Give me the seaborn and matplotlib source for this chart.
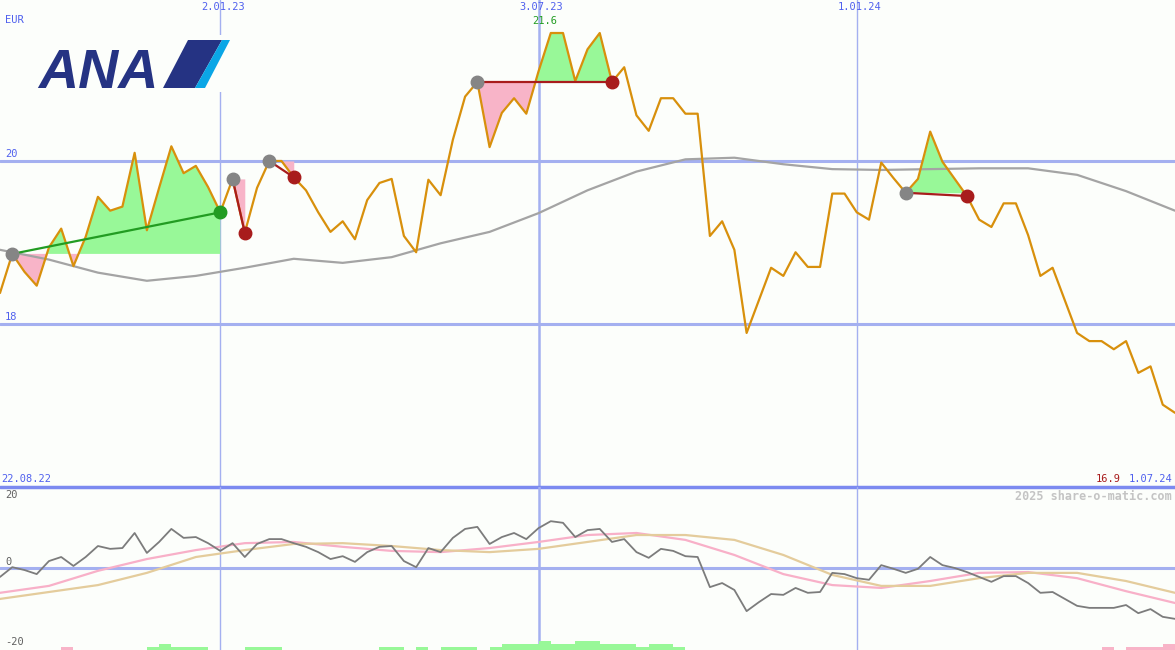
import matplotlib
matplotlib.use("Agg")
import matplotlib.pyplot as plt
from matplotlib.patches import Polygon, Rectangle
import numpy as np
import pandas as pd
import seaborn as sns

# weekly closes, EUR
price = [18.38, 18.86, 18.64, 18.47, 18.94, 19.17, 18.71, 19.07, 19.56, 19.39,
         19.44, 20.10, 19.15, 19.67, 20.18, 19.85, 19.94, 19.68, 19.37, 19.78,
         19.12, 19.67, 20.00, 20.00, 19.80, 19.64, 19.37, 19.13, 19.26, 19.04,
         19.52, 19.73, 19.78, 19.08, 18.88, 19.77, 19.58, 20.26, 20.79, 20.97,
         20.17, 20.59, 20.77, 20.58, 21.10, 21.57, 21.57, 20.98, 21.37, 21.57,
         20.97, 21.15, 20.56, 20.37, 20.77, 20.77, 20.58, 20.58, 19.08, 19.26,
         18.91, 17.89, 18.29, 18.69, 18.59, 18.88, 18.70, 18.70, 19.60, 19.60,
         19.37, 19.28, 19.98, 19.79, 19.61, 19.78, 20.36, 19.99, 19.78, 19.57,
         19.28, 19.19, 19.48, 19.48, 19.09, 18.59, 18.69, 18.29, 17.89, 17.79,
         17.79, 17.69, 17.79, 17.40, 17.48, 17.01, 16.91]

# long moving average, read every 4 weeks
ma_price = [18.91, 18.79, 18.63, 18.53, 18.59, 18.69, 18.80, 18.75, 18.82, 18.99,
            19.13, 19.36, 19.64, 19.87, 20.02, 20.04, 19.96, 19.90, 19.89, 19.90,
            19.91, 19.91, 19.83, 19.63, 19.39]

# lower panel oscillator (weekly) and its two averages (every 4 weeks)
momentum = [-2.2, 0.2, -0.5, -1.5, 1.7, 2.7, 0.5, 2.7, 5.4, 4.7,
            4.9, 8.6, 3.7, 6.4, 9.6, 7.4, 7.6, 6.1, 4.2, 6.1,
            2.7, 5.9, 7.1, 7.1, 6.1, 5.2, 3.9, 2.2, 2.9, 1.5,
            3.9, 5.2, 5.4, 1.7, 0.2, 4.9, 3.9, 7.4, 9.6, 10.1,
            5.9, 7.6, 8.6, 7.1, 9.8, 11.5, 11.1, 7.6, 9.3, 9.6,
            6.4, 7.1, 3.9, 2.5, 4.7, 4.2, 2.9, 2.7, -4.7, -3.7,
            -5.4, -10.6, -8.4, -6.4, -6.6, -4.9, -6.1, -5.9, -1.2, -1.5,
            -2.5, -2.9, 0.7, -0.2, -1.2, -0.2, 2.7, 0.7, 0.0, -1.0,
            -2.2, -3.4, -2.0, -2.0, -3.7, -6.1, -5.9, -7.6, -9.3, -9.8,
            -9.8, -9.8, -9.1, -11.1, -10.1, -12.0, -12.5]
avg_fast = [-6.1, -4.4, -0.7, 2.2, 4.4, 6.1, 6.4, 5.2, 4.2, 3.9, 4.9, 6.4, 8.1,
            8.6, 6.9, 3.2, -1.5, -4.2, -4.9, -3.2, -1.2, -1.0, -2.5, -5.7, -8.6]
avg_slow = [-7.6, -5.9, -4.2, -1.2, 2.7, 4.4, 5.9, 6.1, 5.4, 4.4, 3.9, 4.7, 6.4,
            8.1, 8.1, 6.9, 3.2, -1.7, -4.4, -4.4, -2.5, -1.2, -1.2, -3.2, -6.1]

# small bars at the bottom (+ green, - pink)
trend_bars = [0, 0, 0, 0, 0, -1, 0, 0, 0, 0,
              0, 0, 1, 2, 1, 1, 1, 0, 0, 0,
              1, 1, 1, 0, 0, 0, 0, 0, 0, 0,
              0, 1, 1, 0, 1, 0, 1, 1, 1, 0,
              1, 2, 2, 2, 3, 2, 2, 3, 3, 2,
              2, 2, 1, 2, 2, 1, 0, 0, 0, 0,
              0, 0, 0, 0, 0, 0, 0, 0, 0, 0,
              0, 0, 0, 0, 0, 0, 0, 0, 0, 0,
              0, 0, 0, 0, 0, 0, 0, 0, 0, 0,
              -1, 0, -1, -1, -1, -2, 0]

# trade signals: entry week, exit week
sig_start = [1, 19, 22, 39, 74]
sig_end = [18, 20, 24, 50, 79]
sig_win = [True, False, False, False, False]

date_marks = ["2023-01-02", "2023-07-03", "2024-01-01"]
date_labels = ["2.01.23", "3.07.23", "1.01.24"]
price_levels = [20, 18]
osc_labels = [20, 0, -20]

dates = pd.date_range("2022-08-29", periods=len(price), freq="7D")
df = pd.DataFrame({"date": dates, "price": price, "momentum": momentum,
                   "bars": trend_bars})
avg_df = pd.DataFrame({"date": dates[::4], "ma": ma_price,
                       "fast": avg_fast, "slow": avg_slow})

BG = "#fcfefb"
BLUE = "#4f60ee"
GRID = "#a4b0f0"
GREEN_FILL = "#98f898"
PINK_FILL = "#f8b4c8"
RED = "#a81c1c"

sns.set_style("white")
plt.rcParams["font.family"] = ["DejaVu Sans Mono"]

W, H = 1175, 650
fig = plt.figure(figsize=(W / 100, H / 100), dpi=100)
fig.patch.set_facecolor(BG)
ax = fig.add_axes([0, 163 / H, 1, 487 / H])
ax2 = fig.add_axes([0, 0, 1, 163 / H], sharex=ax)
for a in (ax, ax2):
    a.set_facecolor(BG)
    a.set_axis_off()

ax.set_ylim(16.0, 21.975)
ax2.set_ylim(-20.15, 19.9)
ax.set_xlim(dates[0], dates[-1])

# grid
for v in price_levels:
    ax.axhline(v, color=GRID, lw=2.2, zorder=1)
for d in date_marks:
    thick = d == "2023-07-03"
    for a in (ax, ax2):
        a.axvline(pd.Timestamp(d), color=GRID, lw=1.8 if thick else 1.0, zorder=1)
ax2.axhline(0, color=GRID, lw=2.2, zorder=1)
ax.axhline(16.0, color="#7c8af0", lw=2.5, zorder=6, clip_on=False)

# signal fills
x = df["date"].values
p = np.array(price)
for s, e, win in zip(sig_start, sig_end, sig_win):
    level = p[s]
    xs, ys = x[s:e + 1], p[s:e + 1]
    ax.fill_between(xs, ys, level, where=ys >= level, interpolate=True,
                    color=GREEN_FILL, lw=0, zorder=2)
    ax.fill_between(xs, ys, level, where=ys <= level, interpolate=True,
                    color=PINK_FILL, lw=0, zorder=2)

sns.lineplot(data=avg_df, x="date", y="ma", ax=ax, color="#a4a4a4", lw=1.6, zorder=3)
sns.lineplot(data=df, x="date", y="price", ax=ax, color="#d8900c", lw=1.6, zorder=4)

for s, e, win in zip(sig_start, sig_end, sig_win):
    c = "#229c22" if win else RED
    ax.plot([x[s], x[e]], [p[s], p[e]], color=c, lw=1.6, zorder=5)
    ax.plot(x[s], p[s], "o", ms=9, color="#858585", zorder=6)
    ax.plot(x[e], p[e], "o", ms=9, color=c, zorder=6)

# lower panel
ax2.bar(df["date"], np.abs(df["bars"]) * 0.75, width=7, align="edge", bottom=-20.15,
        color=[GREEN_FILL if b > 0 else PINK_FILL for b in trend_bars], lw=0, zorder=2)
sns.lineplot(data=avg_df, x="date", y="fast", ax=ax2, color="#f8b0c8", lw=1.6, zorder=3)
sns.lineplot(data=avg_df, x="date", y="slow", ax=ax2, color="#e4cc9c", lw=1.6, zorder=3)
sns.lineplot(data=df, x="date", y="momentum", ax=ax2, color="#7c7c7c", lw=1.3, zorder=4)
ax.set_axis_off()
ax2.set_axis_off()

# texts
fs = 7.5
for d, lab in zip(date_marks, date_labels):
    ax.annotate(lab, xy=(pd.Timestamp(d), 1), xycoords=("data", "axes fraction"),
                xytext=(3, -2), textcoords="offset pixels", ha="center", va="top",
                color=BLUE, fontsize=fs)
for v in price_levels:
    ax.annotate(str(v), xy=(0, v), xycoords=("axes fraction", "data"),
                xytext=(5, 2), textcoords="offset pixels", ha="left", va="bottom",
                color=BLUE, fontsize=fs)
imax = int(np.argmax(p))
ax.annotate(f"{p[imax]:.1f}", xy=(x[imax], p[imax]), xytext=(-6, 7),
            textcoords="offset pixels", ha="center", va="bottom",
            color="#229c22", fontsize=fs)


def px(xp, yp):
    return xp / W, 1 - yp / H


fig.text(*px(5, 20), "EUR", color=BLUE, fontsize=fs, va="center")
fig.text(*px(1, 479), dates[0].strftime("22.08.22"), color=BLUE, fontsize=fs, va="center")
fig.text(*px(1121, 479), f"{p[-1]:.1f}", color=RED, fontsize=fs, va="center", ha="right")
fig.text(*px(1172, 479), "1.07.24", color=BLUE, fontsize=fs, va="center", ha="right")
fig.text(*px(1172, 496), "2025 share-o-matic.com", color="#c4c4c4", fontsize=8.5,
         va="center", ha="right", fontweight="bold")
for v, yy in zip(osc_labels, [495, 562, 642]):
    fig.text(*px(5, yy), str(v), color="#606060", fontsize=fs, va="center")

# logo
fig.patches.append(Rectangle(px(35, 92), 195 / W, 57 / H, transform=fig.transFigure,
                             facecolor=BG, edgecolor="none", zorder=5))
fig.text(*px(38, 88), "ANA", color="#253383", fontsize=40, fontweight="heavy",
         style="italic", family=["Liberation Sans", "DejaVu Sans"], va="baseline",
         zorder=6)
fig.patches.append(Polygon([px(188, 40), px(222, 40), px(195, 88), px(163, 88)],
                           closed=True, transform=fig.transFigure,
                           facecolor="#253383", edgecolor="none", zorder=6))
fig.patches.append(Polygon([px(222, 40), px(230, 40), px(205, 88), px(195, 88)],
                           closed=True, transform=fig.transFigure,
                           facecolor="#0aa6e6", edgecolor="none", zorder=6))

fig.savefig("out.png", dpi=100, facecolor=BG)
